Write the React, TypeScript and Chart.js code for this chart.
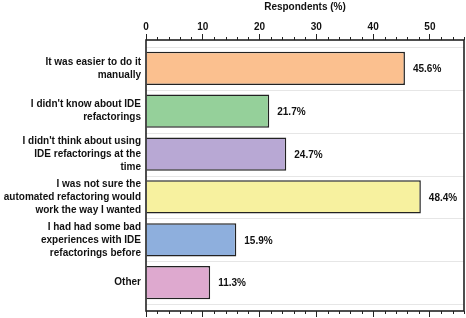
import React, { useEffect, useRef } from "react";
import { Chart, registerables } from "chart.js";

Chart.register(...registerables);

const categories: string[][] = [
  ["It was easier to do it", "manually"],
  ["I didn't know about IDE", "refactorings"],
  ["I didn't think about using", "IDE refactorings at the", "time"],
  ["I was not sure the", "automated refactoring would", "work the way I wanted"],
  ["I had had some bad", "experiences with IDE", "refactorings before"],
  ["Other"],
];
const values: number[] = [45.6, 21.7, 24.7, 48.4, 15.9, 11.3];
const barColors: string[] = ["#fbc08f", "#95d09a", "#b8a8d4", "#f7f19f", "#8eafdd", "#dea9cf"];
const axisTitle = "Respondents (%)";
const xMin = 0;
const xMax = 56;
const majorStep = 10;
const minorStep = 2;

const FONT = "'Liberation Sans', Arial, sans-serif";

const framePlugin = {
  id: "framePlugin",
  beforeDatasetsDraw(chart: any) {
    const { ctx, chartArea } = chart;
    const y = chart.scales.y;
    ctx.save();
    ctx.strokeStyle = "#e6e6e6";
    ctx.lineWidth = 1;
    for (let i = 0; i <= categories.length; i++) {
      const py = Math.round(y.getPixelForValue(i - 0.5)) + 0.5;
      ctx.beginPath();
      ctx.moveTo(chartArea.left, py);
      ctx.lineTo(chartArea.right, py);
      ctx.stroke();
    }
    ctx.restore();
  },
  afterDraw(chart: any) {
    const { ctx, chartArea } = chart;
    const x = chart.scales.x;
    ctx.save();
    ctx.strokeStyle = "#222";
    ctx.lineWidth = 1;
    for (let v = xMin; v <= xMax; v += minorStep) {
      if (v % majorStep === 0) continue;
      const px = Math.round(x.getPixelForValue(v)) + 0.5;
      ctx.beginPath();
      ctx.moveTo(px, chartArea.top);
      ctx.lineTo(px, chartArea.top - 3);
      ctx.moveTo(px, chartArea.bottom);
      ctx.lineTo(px, chartArea.bottom + 3);
      ctx.stroke();
    }
    ctx.strokeStyle = "#222";
    ctx.lineWidth = 1.6;
    ctx.strokeRect(chartArea.left, chartArea.top, chartArea.right - chartArea.left, chartArea.bottom - chartArea.top);
    const meta = chart.getDatasetMeta(0);
    ctx.fillStyle = "#111";
    ctx.font = `bold 10px ${FONT}`;
    ctx.textAlign = "left";
    ctx.textBaseline = "middle";
    meta.data.forEach((bar: any, i: number) => {
      ctx.fillText(values[i].toFixed(1) + "%", bar.x + 8, bar.y + 1);
    });
    ctx.restore();
  },
};

export default function App() {
  const ref = useRef<HTMLCanvasElement>(null);
  useEffect(() => {
    document.body.style.margin = "0";
    const canvas = ref.current;
    if (!canvas) return;
    const chart = new Chart(canvas, {
      type: "bar",
      data: {
        datasets: [
          {
            data: values.map((v, i) => ({ x: v, y: i })) as any,
            backgroundColor: barColors,
            borderColor: "#222",
            borderWidth: 1.5,
            categoryPercentage: 0.86,
            barPercentage: 0.9,
          },
        ],
      },
      options: {
        indexAxis: "y",
        responsive: false,
        animation: false,
        events: [],
        layout: { padding: { left: 0, right: 2, top: 0, bottom: 0 } },
        plugins: { legend: { display: false }, tooltip: { enabled: false } },
        scales: {
          x: {
            type: "linear",
            position: "top",
            min: xMin,
            max: xMax,
            offset: false,
            afterBuildTicks: (scale: any) => {
              const t = [];
              for (let v = xMin; v <= xMax; v += majorStep) t.push({ value: v });
              scale.ticks = t;
            },
            afterFit: (scale: any) => {
              scale.height = 40;
              scale.paddingLeft = 0;
              scale.paddingRight = 0;
            },
            ticks: {
              color: "#111",
              font: { family: FONT, size: 10, weight: "bold" },
              padding: 1,
              maxRotation: 0,
            },
            title: {
              display: true,
              text: axisTitle,
              color: "#111",
              font: { family: FONT, size: 10, weight: "bold" },
              padding: { top: 1, bottom: 4 },
            },
            grid: { drawOnChartArea: false, drawTicks: true, tickLength: 6, tickColor: "#222", tickWidth: 1 },
            border: { display: false },
          },
          x2: {
            type: "linear",
            position: "bottom",
            axis: "x",
            min: xMin,
            max: xMax,
            offset: false,
            afterBuildTicks: (scale: any) => {
              const t = [];
              for (let v = xMin; v <= xMax; v += majorStep) t.push({ value: v });
              scale.ticks = t;
            },
            afterFit: (scale: any) => {
              scale.height = 7;
              scale.paddingLeft = 0;
              scale.paddingRight = 0;
            },
            ticks: { display: false },
            grid: { drawOnChartArea: false, drawTicks: true, tickLength: 6, tickColor: "#222", tickWidth: 1 },
            border: { display: false },
          },
          y: {
            type: "linear",
            position: "left",
            reverse: true,
            offset: false,
            min: -0.66,
            max: 5.66,
            afterBuildTicks: (scale: any) => {
              scale.ticks = categories.map((_, i) => ({ value: i }));
            },
            afterFit: (scale: any) => {
              scale.width = 146;
              scale.paddingTop = 0;
              scale.paddingBottom = 0;
            },
            ticks: {
              color: "#111",
              font: { family: FONT, size: 10, weight: "bold", lineHeight: 1.3 },
              padding: 5,
              callback: (v: any) => categories[v as number] as any,
            },
            grid: { display: false, drawTicks: false, offset: false },
            border: { display: false },
          },
        },
      } as any,
      plugins: [framePlugin],
    });
    return () => chart.destroy();
  }, []);
  return (
    <div style={{ width: 466, height: 318 }}>
      <canvas ref={ref} width={466} height={318} style={{ display: "block" }} />
    </div>
  );
}
